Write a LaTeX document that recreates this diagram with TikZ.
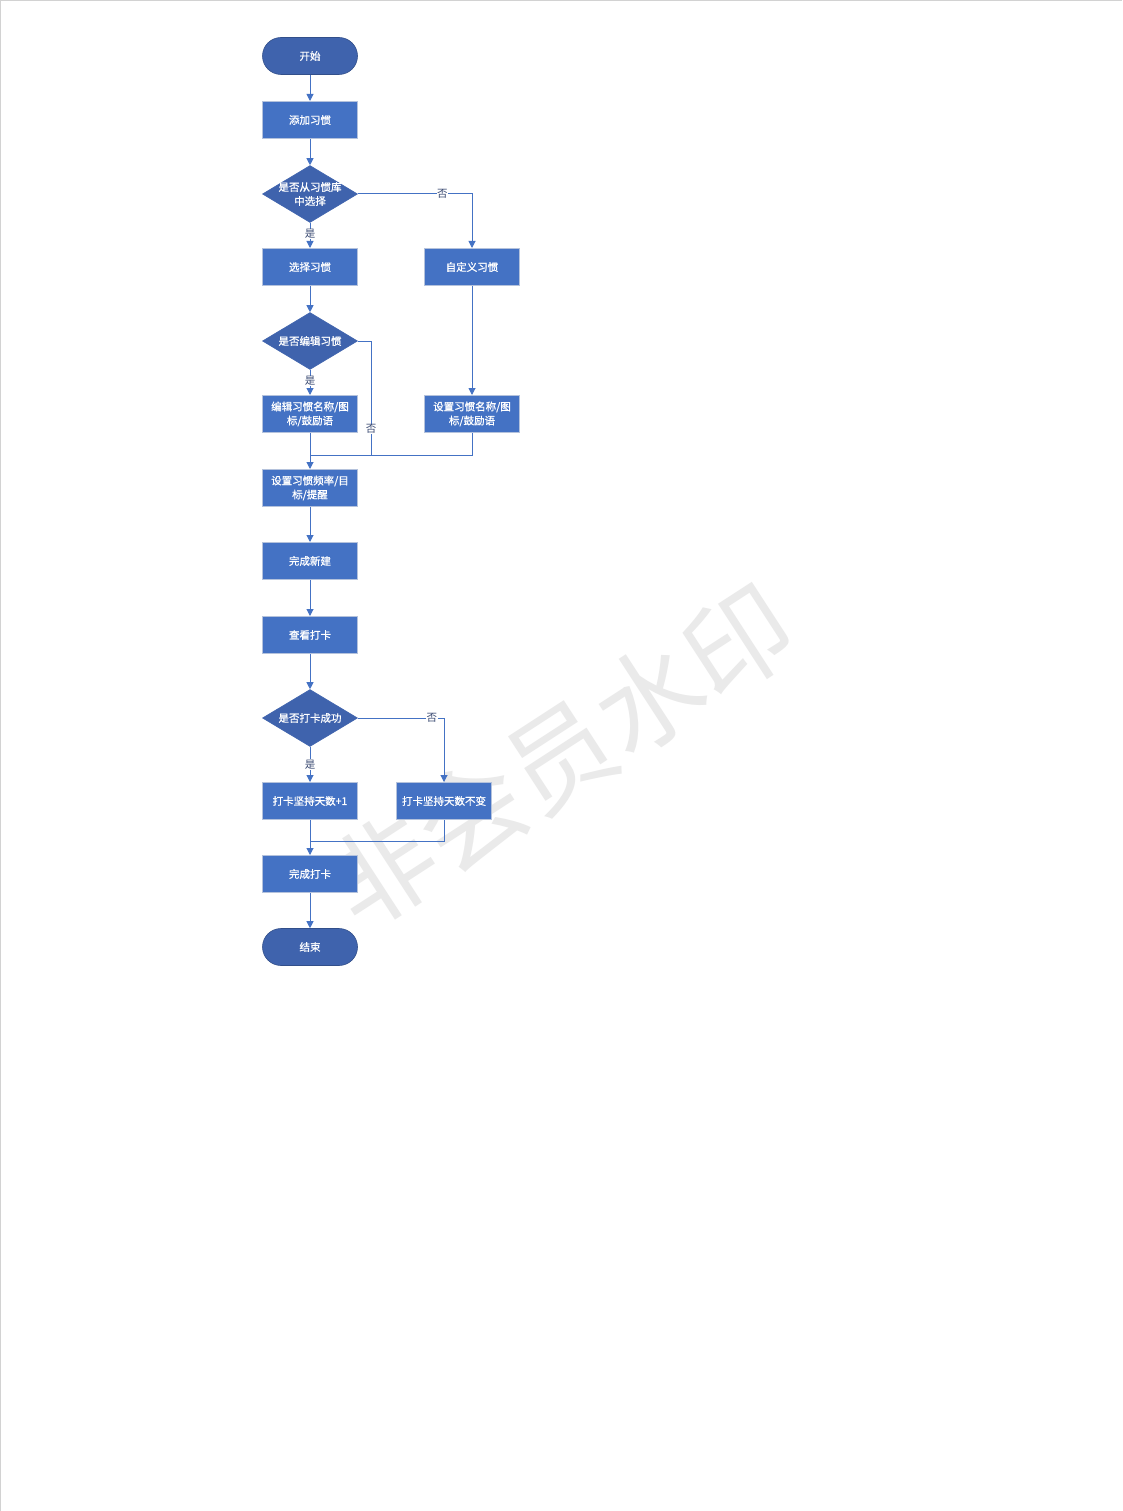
\documentclass[tikz,border=0pt]{standalone}
\usepackage{fontspec}
\setmainfont{Noto Sans CJK SC}
\newfontfamily\boxfont{Noto Sans CJK SC}[FakeBold=1]
\usetikzlibrary{shapes.geometric,arrows.meta}
\definecolor{boxblue}{HTML}{4472C4}
\definecolor{darkblue}{HTML}{3F63AD}
\definecolor{edgegray}{HTML}{B4C2DC}
\definecolor{linecol}{HTML}{4472C4}
\definecolor{lblcol}{HTML}{3A4A72}
\definecolor{wmcol}{HTML}{EAEAEA}
\newcommand{\zw}[1]{\makebox[0pt]{#1}}
\tikzset{
  procbox/.style={draw=edgegray, line width=1pt, fill=boxblue, minimum width=95pt, minimum height=37pt, text=white, font=\boxfont\fontsize{10.5}{14}\selectfont, align=center, inner sep=1pt},
  termbox/.style={draw=darkblue!80!black, line width=0.6pt, fill=darkblue, rounded corners=18.5pt, minimum width=95pt, minimum height=37pt, text=white, font=\boxfont\fontsize{10.5}{14}\selectfont, inner sep=1pt},
  decbox/.style={draw=darkblue, line width=0.6pt, fill=darkblue, diamond, aspect=1.68, minimum width=95pt, minimum height=57pt, text=white, font=\boxfont\fontsize{10.5}{14}\selectfont, align=center, inner sep=0pt},
  conn/.style={draw=linecol, line width=1pt, -{Triangle[length=7pt,width=7pt]}},
  plainconn/.style={draw=linecol, line width=1pt},
  lbl/.style={fill=white, text=lblcol, font=\fontsize{10.5}{11}\selectfont, inner sep=0.5pt}
}
\begin{document}
\begin{tikzpicture}[x=1pt,y=-1pt]
\useasboundingbox (0,0) rectangle (1122,1511);
\fill[white] (0,0) rectangle (1122,1511);
\draw[gray!35, line width=1.2pt] (0.6,1511) -- (0.6,0.6) -- (1122,0.6);
% watermark
\node[wmcol, rotate=33, font=\fontsize{106}{110}\selectfont] (wm) at (560,756) {非会员水印};
% nodes
\node[termbox] (start) at (310,56) {开始};
\node[procbox] (add) at (310,120) {添加习惯};
\node[decbox] (d1) at (310,194) {\zw{是否从习惯库}\\\zw{中选择}};
\node[procbox] (sel) at (310,267) {选择习惯};
\node[procbox] (cust) at (472,267) {自定义习惯};
\node[decbox] (d2) at (310,341) {\zw{是否编辑习惯}};
\node[procbox] (edit) at (310,414) {编辑习惯名称/图\\标/鼓励语};
\node[procbox] (setn) at (472,414) {设置习惯名称/图\\标/鼓励语};
\node[procbox] (freq) at (310,488) {设置习惯频率/目\\标/提醒};
\node[procbox] (done) at (310,561) {完成新建};
\node[procbox] (view) at (310,635) {查看打卡};
\node[decbox] (d3) at (310,718) {\zw{是否打卡成功}};
\node[procbox] (plus) at (310,801) {打卡坚持天数+1};
\node[procbox] (same) at (444,801) {打卡坚持天数不变};
\node[procbox] (fin) at (310,874) {完成打卡};
\node[termbox] (stop) at (310,947) {结束};
\coordinate (j1) at (310,455);
\coordinate (k1) at (371,341);
\coordinate (k2) at (371,455);
\coordinate (j2) at (310,841);
% connectors
\draw[conn] (start) -- (add);
\draw[conn] (add) -- (d1);
\draw[conn] (d1) -- node[lbl, pos=0.45] (y1) {是} (sel);
\draw[conn] (d1.east) -| node[lbl, pos=0.37] (n1) {否} (cust.north);
\draw[conn] (sel) -- (d2);
\draw[conn] (d2) -- node[lbl, pos=0.45] (y2) {是} (edit);
\draw[plainconn] (d2.east) -- (k1) -- node[lbl, pos=0.77] (n2) {否} (k2) -- (j1);
\draw[conn] (cust) -- (setn);
\draw[plainconn] (setn.south) |- (j1);
\draw[conn] (edit) -- (freq);
\draw[conn] (freq) -- (done);
\draw[conn] (done) -- (view);
\draw[conn] (view) -- (d3);
\draw[conn] (d3) -- node[lbl, pos=0.5] (y3) {是} (plus);
\draw[conn] (d3.east) -| node[lbl, pos=0.43] (n3) {否} (same.north);
\draw[plainconn] (same.south) |- (j2);
\draw[conn] (plus) -- (fin);
\draw[conn] (fin) -- (stop);
\end{tikzpicture}
\end{document}
